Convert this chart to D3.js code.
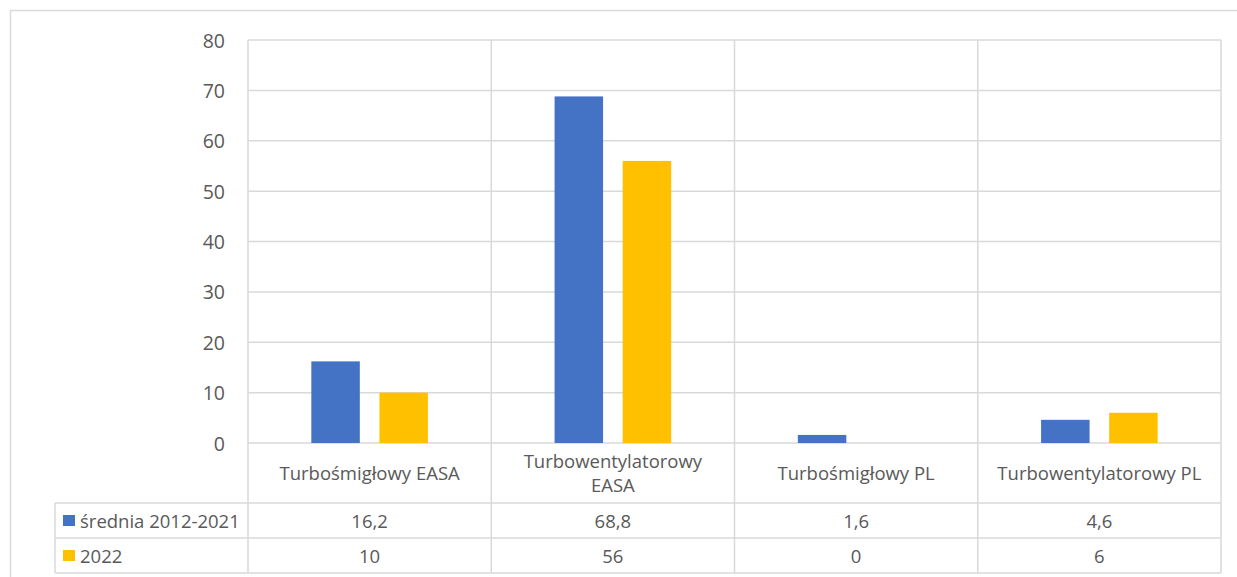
<!DOCTYPE html>
<html>
<head>
<meta charset="utf-8">
<script src="https://cdn.jsdelivr.net/npm/d3@7"></script>
<style>
  html, body { margin: 0; padding: 0; background: #ffffff; }
  svg { display: block; }
  text { font-family: "Open Sans", "Noto Sans", sans-serif; fill: #595959; }
</style>
</head>
<body>
<svg id="chart" width="1237" height="577"></svg>
<script>
// Categories (engine types) and the two compared series
const categories = [
  ["Turbośmigłowy EASA"],
  ["Turbowentylatorowy", "EASA"],
  ["Turbośmigłowy PL"],
  ["Turbowentylatorowy PL"]
];
const seriesNames = ["średnia 2012-2021", "2022"];
const seriesColors = ["#4472C4", "#FFC000"];
const avg2012_2021 = [16.2, 68.8, 1.6, 4.6];
const year2022 = [10, 56, 0, 6];
const tableLabels2012_2021 = ["16,2", "68,8", "1,6", "4,6"];
const tableLabels2022 = ["10", "56", "0", "6"];
const yTicks = [0, 10, 20, 30, 40, 50, 60, 70, 80];

const seriesValues = [avg2012_2021, year2022];
const seriesLabels = [tableLabels2012_2021, tableLabels2022];

const svg = d3.select("#chart");
const W = 1237, H = 577;
const grid = "#d9d9d9";
const fontSize = 18.5;

// Plot area and data table geometry
const plot = { left: 248, right: 1221, top: 40, bottom: 443 };
const tableLeft = 55;
const catRowBottom = 503;
const rowH = 35;

// Outer chart frame
svg.append("path")
  .attr("d", `M10.5,${H} V10.5 H${W}`)
  .attr("fill", "none").attr("stroke", grid).attr("stroke-width", 1.5);

const y = d3.scaleLinear().domain([0, 80]).range([plot.bottom, plot.top]);
const x0 = d3.scaleBand()
  .domain(d3.range(categories.length))
  .range([plot.left, plot.right])
  .padding(0);
const x1 = d3.scaleBand()
  .domain(d3.range(seriesNames.length))
  .range([0, x0.bandwidth()])
  .paddingInner(0.288)
  .paddingOuter(0.93);

// Horizontal gridlines
svg.append("g").selectAll("line").data(yTicks).join("line")
  .attr("x1", plot.left).attr("x2", plot.right)
  .attr("y1", d => y(d)).attr("y2", d => y(d))
  .attr("stroke", grid).attr("stroke-width", 1.5);

// Y axis labels
const yAxis = d3.axisLeft(y).tickValues(yTicks).tickSize(0).tickPadding(0)
  .tickFormat(d3.format("d"));
const yg = svg.append("g").attr("transform", `translate(225,0)`).call(yAxis);
yg.select(".domain").remove();
yg.selectAll("text")
  .attr("font-family", '"Open Sans", sans-serif')
  .attr("font-size", 19.5)
  .attr("fill", "#595959")
  .attr("x", 0)
  .attr("dy", "0.36em");

// Bars
seriesValues.forEach((vals, s) => {
  svg.append("g").selectAll("rect").data(vals).join("rect")
    .attr("x", (d, i) => x0(i) + x1(s))
    .attr("width", x1.bandwidth())
    .attr("y", d => y(d))
    .attr("height", d => y(0) - y(d))
    .attr("fill", seriesColors[s]);
});

// Data table lines
const tableBottom = catRowBottom + rowH * seriesNames.length;
const tbl = svg.append("g").attr("stroke", grid).attr("stroke-width", 1.5);
[catRowBottom, catRowBottom + rowH, tableBottom].forEach(yy => {
  tbl.append("line").attr("x1", tableLeft).attr("x2", plot.right)
    .attr("y1", yy).attr("y2", yy);
});
tbl.append("line").attr("x1", tableLeft).attr("x2", tableLeft)
  .attr("y1", catRowBottom).attr("y2", tableBottom);
d3.range(categories.length + 1).forEach(i => {
  const xx = i < categories.length ? x0(i) : plot.right;
  tbl.append("line").attr("x1", xx).attr("x2", xx)
    .attr("y1", plot.top).attr("y2", tableBottom);
});

// Category labels
const catG = svg.append("g");
categories.forEach((lines, i) => {
  const cx = x0(i) + x0.bandwidth() / 2;
  const mid = (plot.bottom + catRowBottom) / 2;
  const lh = 24;
  const t = catG.append("text")
    .attr("text-anchor", "middle")
    .attr("font-size", fontSize);
  lines.forEach((ln, k) => {
    t.append("tspan")
      .attr("x", cx)
      .attr("y", mid + (k - (lines.length - 1) / 2) * lh + 7)
      .text(ln);
  });
});

// Table rows: legend key, series name, values
seriesNames.forEach((name, s) => {
  const top = catRowBottom + s * rowH;
  const cy = top + rowH / 2;
  svg.append("rect")
    .attr("x", 63).attr("y", cy - 5.5)
    .attr("width", 12).attr("height", 11)
    .attr("fill", seriesColors[s]);
  svg.append("text")
    .attr("x", 80).attr("y", cy + 7)
    .attr("font-size", fontSize)
    .text(name);
  svg.append("g").selectAll("text").data(seriesLabels[s]).join("text")
    .attr("x", (d, i) => x0(i) + x0.bandwidth() / 2)
    .attr("y", cy + 7)
    .attr("text-anchor", "middle")
    .attr("font-size", fontSize)
    .text(d => d);
});
</script>
</body>
</html>
